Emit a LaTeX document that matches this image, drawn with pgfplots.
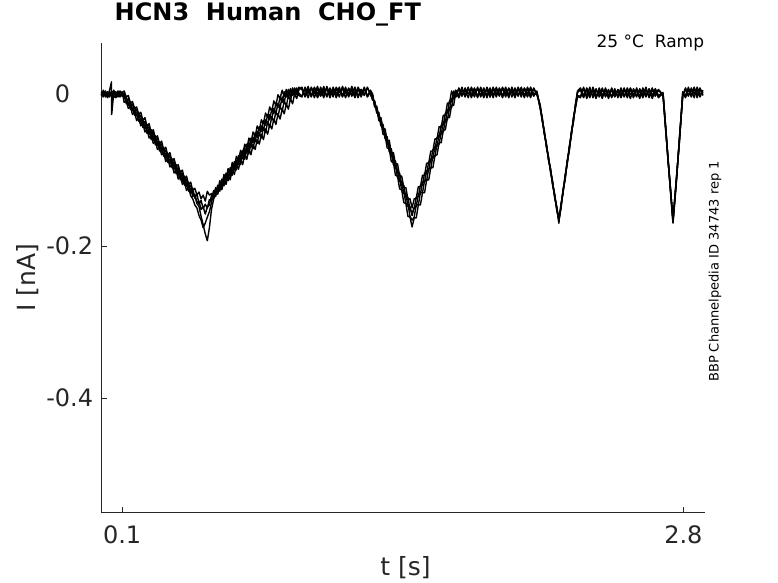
\documentclass[border=0pt]{standalone}
\usepackage{pgfplots}
\pgfplotsset{compat=1.18}
\usepackage{pgfplotstable}
\usepackage{fontspec}
\setmainfont{DejaVu Sans}
\definecolor{axgray}{rgb}{0.15,0.15,0.15}

% five repeated sweeps, current in nA, time in s
\pgfplotstableread{
t a b c d e
0.000 0.002 -0.001 0.003 -0.002 0.000
0.010 -0.003 0.004 -0.001 0.005 -0.004
0.020 0.004 -0.004 0.002 -0.001 0.003
0.030 -0.002 0.003 -0.005 0.002 -0.004
0.040 0.005 -0.002 0.001 -0.004 0.002
0.049 0.016 0.001 -0.003 0.004 -0.001
0.050 -0.027 -0.003 0.004 -0.002 0.003
0.060 0.002 0.005 -0.002 0.001 -0.005
0.070 -0.005 -0.001 0.003 -0.004 0.001
0.080 0.001 0.003 -0.004 0.004 -0.002
0.090 -0.003 -0.004 0.002 -0.001 0.004
0.100 0.001 0.002 -0.003 0.003 -0.002
0.110 0.004 -0.006 0.001 -0.011 -0.002
0.120 -0.004 -0.003 -0.013 -0.009 -0.010
0.130 -0.002 -0.015 -0.011 -0.019 -0.006
0.140 -0.012 -0.010 -0.020 -0.017 -0.016
0.150 -0.010 -0.022 -0.018 -0.027 -0.013
0.160 -0.019 -0.017 -0.028 -0.024 -0.024
0.170 -0.017 -0.029 -0.025 -0.035 -0.020
0.180 -0.027 -0.024 -0.036 -0.032 -0.031
0.190 -0.024 -0.037 -0.033 -0.042 -0.028
0.200 -0.035 -0.033 -0.044 -0.039 -0.040
0.210 -0.031 -0.045 -0.040 -0.050 -0.036
0.220 -0.043 -0.040 -0.052 -0.047 -0.046
0.230 -0.039 -0.053 -0.048 -0.058 -0.043
0.240 -0.051 -0.047 -0.060 -0.055 -0.054
0.250 -0.047 -0.061 -0.055 -0.065 -0.050
0.260 -0.058 -0.055 -0.067 -0.062 -0.062
0.270 -0.055 -0.068 -0.063 -0.073 -0.058
0.280 -0.066 -0.063 -0.075 -0.070 -0.069
0.290 -0.062 -0.076 -0.070 -0.080 -0.066
0.300 -0.074 -0.070 -0.082 -0.077 -0.077
0.310 -0.070 -0.084 -0.078 -0.089 -0.074
0.320 -0.081 -0.078 -0.090 -0.085 -0.085
0.330 -0.077 -0.092 -0.086 -0.096 -0.081
0.340 -0.089 -0.085 -0.097 -0.093 -0.093
0.350 -0.085 -0.099 -0.093 -0.104 -0.089
0.360 -0.096 -0.093 -0.105 -0.100 -0.100
0.370 -0.093 -0.107 -0.101 -0.112 -0.097
0.380 -0.104 -0.101 -0.113 -0.107 -0.108
0.390 -0.100 -0.115 -0.108 -0.119 -0.104
0.400 -0.112 -0.108 -0.120 -0.116 -0.116
0.410 -0.108 -0.122 -0.116 -0.127 -0.112
0.420 -0.119 -0.116 -0.128 -0.123 -0.123
0.430 -0.116 -0.130 -0.124 -0.134 -0.120
0.440 -0.127 -0.124 -0.135 -0.138 -0.131
0.450 -0.124 -0.137 -0.132 -0.146 -0.133
0.460 -0.133 -0.131 -0.143 -0.150 -0.144
0.470 -0.129 -0.145 -0.141 -0.160 -0.148
0.480 -0.138 -0.140 -0.152 -0.166 -0.161
0.490 -0.133 -0.151 -0.148 -0.176 -0.172
0.500 -0.141 -0.145 -0.158 -0.170 -0.184
0.510 -0.128 -0.150 -0.149 -0.162 -0.193
0.520 -0.133 -0.139 -0.146 -0.155 -0.176
0.530 -0.131 -0.141 -0.133 -0.143 -0.152
0.540 -0.137 -0.127 -0.138 -0.129 -0.139
0.550 -0.123 -0.133 -0.125 -0.135 -0.126
0.560 -0.129 -0.120 -0.131 -0.121 -0.132
0.570 -0.114 -0.126 -0.117 -0.128 -0.119
0.580 -0.120 -0.112 -0.123 -0.114 -0.126
0.590 -0.106 -0.118 -0.109 -0.121 -0.113
0.600 -0.112 -0.104 -0.115 -0.107 -0.119
0.610 -0.098 -0.110 -0.101 -0.114 -0.106
0.620 -0.104 -0.097 -0.108 -0.100 -0.113
0.630 -0.090 -0.103 -0.094 -0.107 -0.099
0.640 -0.096 -0.089 -0.100 -0.093 -0.106
0.650 -0.082 -0.095 -0.087 -0.100 -0.093
0.660 -0.088 -0.081 -0.093 -0.086 -0.099
0.670 -0.074 -0.087 -0.079 -0.093 -0.086
0.680 -0.080 -0.074 -0.085 -0.079 -0.093
0.690 -0.066 -0.080 -0.072 -0.086 -0.079
0.700 -0.072 -0.066 -0.078 -0.072 -0.086
0.710 -0.058 -0.072 -0.064 -0.079 -0.073
0.720 -0.064 -0.058 -0.070 -0.065 -0.080
0.730 -0.050 -0.064 -0.057 -0.072 -0.066
0.740 -0.056 -0.051 -0.063 -0.058 -0.073
0.750 -0.042 -0.057 -0.049 -0.065 -0.060
0.760 -0.048 -0.043 -0.055 -0.051 -0.066
0.770 -0.034 -0.049 -0.042 -0.058 -0.053
0.780 -0.039 -0.035 -0.048 -0.044 -0.060
0.790 -0.025 -0.041 -0.034 -0.051 -0.046
0.800 -0.031 -0.027 -0.040 -0.037 -0.053
0.810 -0.017 -0.034 -0.027 -0.044 -0.040
0.820 -0.023 -0.020 -0.033 -0.030 -0.046
0.830 -0.009 -0.026 -0.019 -0.037 -0.033
0.840 -0.015 -0.012 -0.026 -0.023 -0.040
0.850 -0.001 -0.018 -0.012 -0.030 -0.026
0.860 -0.006 -0.004 -0.018 -0.016 -0.033
0.870 0.005 -0.011 -0.004 -0.023 -0.020
0.880 -0.003 0.003 -0.011 -0.009 -0.026
0.890 0.006 -0.004 0.003 -0.016 -0.013
0.900 -0.002 0.006 -0.005 -0.002 -0.020
0.910 0.007 -0.003 0.006 -0.009 -0.006
0.920 -0.001 0.008 -0.002 0.005 -0.013
0.930 0.008 0.000 0.007 -0.003 0.000
0.940 0.000 0.007 -0.001 0.008 -0.006
0.950 0.007 -0.002 0.009 0.001 0.005
0.965 0.008 -0.004 0.006 -0.003 0.009
0.980 -0.003 0.009 -0.002 0.007 -0.004
0.995 0.006 0.001 0.010 -0.005 0.004
1.010 -0.004 0.008 -0.003 0.009 -0.002
1.025 0.009 -0.005 0.005 0.000 0.008
1.040 0.000 0.007 -0.004 0.010 -0.005
1.055 0.007 -0.002 0.009 -0.003 0.003
1.070 -0.005 0.010 0.001 0.006 -0.003
1.085 0.010 -0.003 0.007 -0.004 0.009
1.100 -0.002 0.006 -0.005 0.008 0.000
1.115 0.005 -0.004 0.009 -0.001 0.007
1.130 -0.003 0.009 0.000 0.007 -0.005
1.145 0.009 0.002 0.008 -0.004 0.006
1.160 -0.004 0.007 -0.003 0.010 -0.002
1.175 0.006 -0.005 0.006 0.001 0.009
1.190 0.001 0.008 -0.004 0.007 -0.003
1.205 0.008 -0.002 0.010 -0.003 0.005
1.220 -0.005 0.009 0.000 0.008 -0.004
1.235 0.007 -0.003 0.007 -0.005 0.009
1.250 -0.002 0.006 -0.004 0.006 0.001
1.265 0.009 -0.001 0.008 -0.002 0.007
1.280 -0.003 0.008 -0.003 0.009 -0.004
1.295 0.004 0.000 0.005 -0.001 0.003
1.305 -0.001 -0.008 0.000 -0.007 -0.002
1.315 -0.016 -0.009 -0.015 -0.010 -0.017
1.325 -0.016 -0.024 -0.018 -0.025 -0.019
1.335 -0.031 -0.024 -0.032 -0.027 -0.035
1.345 -0.031 -0.040 -0.033 -0.042 -0.036
1.355 -0.046 -0.040 -0.049 -0.043 -0.053
1.365 -0.046 -0.056 -0.049 -0.059 -0.054
1.375 -0.062 -0.056 -0.066 -0.060 -0.071
1.385 -0.061 -0.072 -0.066 -0.076 -0.072
1.395 -0.077 -0.072 -0.082 -0.077 -0.089
1.405 -0.077 -0.088 -0.082 -0.093 -0.090
1.415 -0.092 -0.088 -0.098 -0.094 -0.107
1.425 -0.092 -0.104 -0.099 -0.110 -0.108
1.435 -0.108 -0.104 -0.115 -0.111 -0.125
1.445 -0.108 -0.120 -0.115 -0.127 -0.126
1.455 -0.123 -0.120 -0.131 -0.128 -0.143
1.465 -0.123 -0.136 -0.131 -0.144 -0.144
1.475 -0.139 -0.136 -0.148 -0.145 -0.161
1.485 -0.138 -0.152 -0.148 -0.161 -0.162
1.495 -0.150 -0.156 -0.160 -0.166 -0.175
1.505 -0.138 -0.151 -0.149 -0.162 -0.163
1.515 -0.137 -0.136 -0.148 -0.146 -0.163
1.525 -0.122 -0.135 -0.132 -0.146 -0.146
1.535 -0.122 -0.120 -0.132 -0.130 -0.146
1.545 -0.107 -0.120 -0.116 -0.130 -0.130
1.555 -0.107 -0.104 -0.116 -0.114 -0.130
1.565 -0.091 -0.105 -0.101 -0.114 -0.113
1.575 -0.091 -0.089 -0.101 -0.098 -0.113
1.585 -0.075 -0.089 -0.085 -0.098 -0.097
1.595 -0.075 -0.073 -0.085 -0.082 -0.097
1.605 -0.059 -0.073 -0.069 -0.082 -0.081
1.615 -0.059 -0.057 -0.069 -0.066 -0.080
1.625 -0.043 -0.057 -0.053 -0.066 -0.064
1.635 -0.044 -0.041 -0.053 -0.050 -0.064
1.645 -0.028 -0.041 -0.037 -0.050 -0.048
1.655 -0.028 -0.025 -0.037 -0.034 -0.047
1.665 -0.012 -0.025 -0.021 -0.034 -0.031
1.675 -0.012 -0.009 -0.021 -0.018 -0.031
1.685 0.004 -0.010 -0.006 -0.018 -0.015
1.695 -0.004 0.004 -0.006 -0.002 -0.015
1.705 0.005 -0.004 0.005 -0.004 0.002
1.720 -0.004 0.007 -0.002 0.008 -0.005
1.735 0.007 -0.003 0.009 -0.002 0.006
1.750 -0.002 0.008 -0.004 0.006 -0.003
1.765 0.009 0.000 0.007 -0.005 0.008
1.780 -0.005 0.006 -0.001 0.009 -0.002
1.795 0.006 -0.004 0.008 0.000 0.007
1.810 -0.003 0.009 -0.003 0.007 -0.005
1.825 0.008 -0.002 0.006 -0.004 0.009
1.840 0.000 0.007 -0.005 0.008 -0.001
1.855 0.007 -0.005 0.009 -0.002 0.006
1.870 -0.004 0.008 0.000 0.006 -0.004
1.885 0.009 -0.001 0.007 -0.005 0.008
1.900 -0.002 0.006 -0.004 0.009 0.000
1.915 0.006 -0.003 0.008 -0.001 0.007
1.930 -0.005 0.009 -0.002 0.007 -0.003
1.945 0.008 0.000 0.006 -0.004 0.009
1.960 -0.001 0.007 -0.005 0.008 -0.002
1.975 0.007 -0.004 0.009 0.001 0.006
1.990 -0.003 0.008 -0.001 0.006 -0.005
2.005 0.009 -0.002 0.007 -0.003 0.008
2.020 0.000 0.006 -0.004 0.009 -0.001
2.035 0.006 -0.005 0.008 -0.002 0.007
2.050 -0.004 0.009 0.001 0.007 -0.003
2.065 0.008 -0.001 0.006 -0.005 0.009
2.080 -0.002 0.007 -0.003 0.008 0.000
2.095 0.004 -0.001 0.003 0.000 0.002
2.111 -0.017 -0.014 -0.019 -0.015 -0.018
2.121 -0.031 -0.035 -0.033 -0.036 -0.032
2.131 -0.051 -0.048 -0.052 -0.049 -0.053
2.141 -0.066 -0.070 -0.067 -0.069 -0.065
2.151 -0.085 -0.082 -0.086 -0.083 -0.087
2.161 -0.099 -0.103 -0.100 -0.102 -0.098
2.171 -0.118 -0.115 -0.119 -0.116 -0.120
2.181 -0.133 -0.136 -0.134 -0.137 -0.132
2.191 -0.151 -0.148 -0.152 -0.149 -0.153
2.201 -0.163 -0.168 -0.165 -0.170 -0.166
2.211 -0.150 -0.146 -0.149 -0.145 -0.151
2.221 -0.128 -0.131 -0.127 -0.130 -0.126
2.231 -0.112 -0.108 -0.111 -0.107 -0.113
2.241 -0.090 -0.093 -0.089 -0.092 -0.088
2.251 -0.074 -0.070 -0.073 -0.069 -0.075
2.261 -0.052 -0.055 -0.051 -0.054 -0.050
2.271 -0.036 -0.032 -0.035 -0.031 -0.037
2.281 -0.015 -0.018 -0.014 -0.017 -0.013
2.291 0.002 -0.003 0.004 -0.002 0.003
2.305 0.006 -0.005 0.008 -0.003 0.005
2.320 -0.004 0.007 -0.002 0.009 -0.005
2.335 0.008 -0.002 0.005 -0.006 0.007
2.350 -0.003 0.009 -0.005 0.004 -0.002
2.365 0.006 -0.005 0.009 -0.002 0.005
2.380 -0.005 0.005 -0.003 0.007 -0.006
2.395 0.007 -0.002 0.004 -0.004 0.008
2.410 -0.002 0.008 -0.006 0.005 -0.003
2.425 0.005 -0.004 0.008 -0.001 0.006
2.440 -0.006 0.004 -0.002 0.006 -0.004
2.455 0.008 -0.003 0.005 -0.005 0.007
2.470 -0.003 0.007 -0.004 0.003 -0.002
2.485 0.004 -0.005 0.006 -0.002 0.005
2.500 -0.004 0.006 -0.001 0.008 -0.005
2.515 0.007 -0.003 0.008 -0.004 0.006
2.530 -0.002 0.008 -0.005 0.005 -0.003
2.545 0.006 -0.001 0.007 -0.006 0.008
2.560 -0.005 0.005 -0.003 0.007 -0.001
2.575 0.008 -0.004 0.005 -0.002 0.006
2.590 -0.003 0.007 -0.006 0.004 -0.004
2.605 0.005 -0.002 0.008 -0.005 0.007
2.620 -0.004 0.009 -0.002 0.006 -0.003
2.635 0.007 -0.005 0.006 -0.003 0.005
2.650 -0.002 0.006 -0.004 0.008 -0.006
2.665 0.006 -0.003 0.007 -0.001 0.004
2.680 -0.005 0.005 -0.002 0.006 -0.003
2.702 0.001 -0.002 0.002 -0.001 0.000
2.716 -0.048 -0.052 -0.049 -0.051 -0.047
2.726 -0.086 -0.083 -0.087 -0.084 -0.088
2.736 -0.118 -0.122 -0.119 -0.121 -0.117
2.750 -0.166 -0.170 -0.165 -0.169 -0.167
2.766 -0.113 -0.117 -0.114 -0.116 -0.112
2.781 -0.062 -0.058 -0.061 -0.057 -0.063
2.797 0.002 -0.003 0.001 -0.002 0.003
2.810 -0.004 0.007 -0.002 0.008 -0.005
2.824 0.007 -0.003 0.009 -0.002 0.006
2.838 -0.002 0.008 -0.004 0.006 -0.003
2.852 0.009 0.000 0.007 -0.005 0.008
2.866 -0.005 0.006 -0.001 0.009 -0.002
2.880 0.006 -0.004 0.008 0.000 0.007
2.894 0.001 0.005 -0.002 0.003 -0.001
}\traces

\begin{document}
\begin{tikzpicture}
\begin{axis}[
    at={(101.3bp,70.7bp)}, anchor=south west,
    scale only axis, width=603.7bp, height=469bp,
    xmin=0, xmax=2.904, ymin=-0.5504, ymax=0.0667,
    clip=false,
    axis x line*=bottom, axis y line*=left,
    axis line style={axgray, line width=0.6bp},
    tick style={axgray, line width=0.6bp},
    tick align=inside, major tick length=5.5bp,
    xtick={0.1,2.8}, xticklabels={0.1,2.8},
    ytick={-0.4,-0.2,0}, yticklabels={-0.4,-0.2,{0\hphantom{\ \ \ }}},
    ticklabel style={font=\fontsize{24bp}{28bp}\selectfont, text=axgray, inner sep=0pt},
    xticklabel style={anchor=north, yshift=-12.7bp},
    yticklabel style={anchor=east, xshift=-8bp},
    xlabel={t [s]},
    xlabel style={at={(axis description cs:0.504,-0.1352)}, anchor=base,
        font=\fontsize{25bp}{30bp}\selectfont, text=axgray, inner sep=0pt},
    ylabel={I [nA]},
    ylabel style={at={(axis description cs:-0.1097,0.5006)}, anchor=base,
        font=\fontsize{25bp}{30bp}\selectfont, text=axgray, inner sep=0pt},
    title={HCN3\ \ Human\ \ CHO\_FT},
    title style={at={(axis description cs:0.0219,1.0354)}, anchor=base west,
        font=\bfseries\fontsize{24bp}{28bp}\selectfont, inner sep=0pt},
]
\addplot[black, no markers, line width=1.4bp, line join=round] table[x=t, y=a] {\traces};
\addplot[black, no markers, line width=1.4bp, line join=round] table[x=t, y=b] {\traces};
\addplot[black, no markers, line width=1.4bp, line join=round] table[x=t, y=c] {\traces};
\addplot[black, no markers, line width=1.4bp, line join=round] table[x=t, y=d] {\traces};
\addplot[black, no markers, line width=1.4bp, line join=round] table[x=t, y=e] {\traces};
\node[anchor=base east, inner sep=0pt, font=\fontsize{17bp}{20bp}\selectfont]
    at (axis description cs:0.9988,0.9911) {25 °C\ \ Ramp};
\node[rotate=90, anchor=center, inner sep=0pt, font=\fontsize{13bp}{15bp}\selectfont]
    at (axis description cs:1.0166,0.5134) {BBP Channelpedia ID 34743 rep 1};
\end{axis}
\pgfresetboundingbox
\path[use as bounding box] (0,0) rectangle (778bp,583bp);
\end{tikzpicture}
\end{document}
